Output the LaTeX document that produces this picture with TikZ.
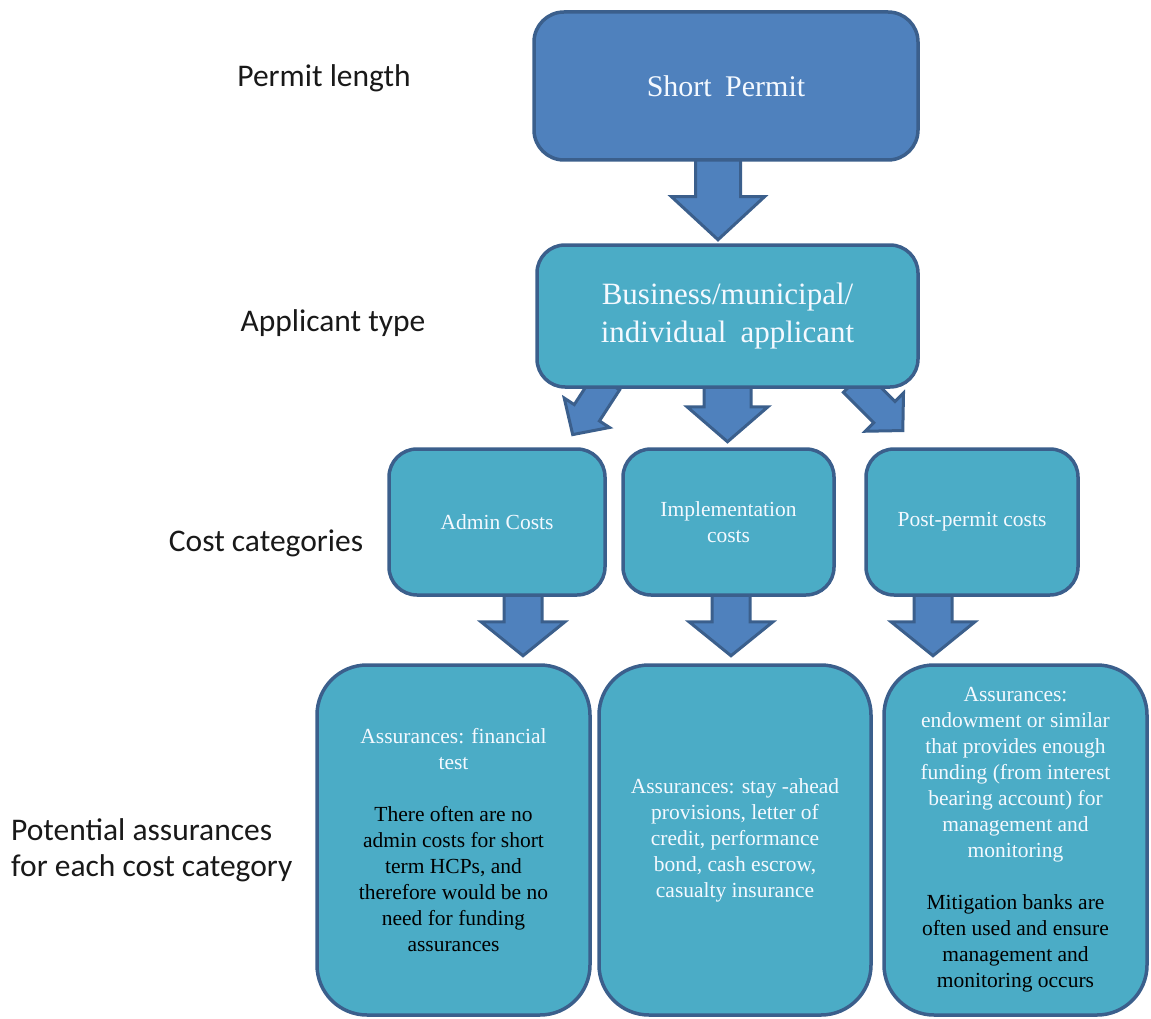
\documentclass[tikz,border=0pt]{standalone}
\usepackage{fontspec}
\setmainfont{Liberation Serif}
\newfontfamily\labfont{Carlito}
\usetikzlibrary{calc,backgrounds}
\definecolor{darkfill}{HTML}{4F81BD}
\definecolor{tealfill}{HTML}{4BACC6}
\definecolor{bordc}{HTML}{3B5F8C}
\definecolor{wtext}{HTML}{F4F9FF}
\tikzset{
  boxbase/.style={draw=bordc, line width=3.5pt, align=center, inner sep=0pt, text=wtext},
  topbox/.style={boxbase, fill=darkfill, rounded corners=30pt, font=\fontsize{30}{38}\selectfont},
  midbox/.style={boxbase, fill=tealfill, rounded corners=28pt, font=\fontsize{31}{38}\selectfont},
  costbox/.style={boxbase, fill=tealfill, rounded corners=28pt, font=\fontsize{21.5}{26}\selectfont},
  assbox/.style={boxbase, fill=tealfill, rounded corners=50pt, font=\fontsize{21.5}{26}\selectfont},
  lab/.style={font=\labfont\fontsize{31.5}{36}\selectfont, text=black!90, inner sep=0pt},
  arrst/.style={draw=bordc, fill=darkfill, line width=3pt, line join=miter}
}
\newcommand\blockarr[6]{%
  \begin{scope}[shift={#1}, rotate=#2]
    \draw[arrst] (-#3,0) -- (-#3,#5) -- (-#4,#5) -- (0,#5+#6) -- (#4,#5) -- (#3,#5) -- (#3,0) -- cycle;
  \end{scope}}
\begin{document}
\begin{tikzpicture}[x=1pt,y=-1pt]
\useasboundingbox (0,0) rectangle (1151,1019);
% boxes
\node[topbox, minimum width=384pt, minimum height=148pt] (sp) at (726,86) {Short\hspace{0.45em}Permit};
\node[midbox, minimum width=381pt, minimum height=142pt] (app) at (727.5,316) {Business/municipal/\\individual\hspace{0.45em}applicant};
\node[costbox, minimum width=216pt, minimum height=146pt] (adm) at (497,522) {Admin Costs};
\node[costbox, minimum width=211pt, minimum height=146pt] (imp) at (728.5,522) {Implementation\\costs};
\node[costbox, minimum width=212pt, minimum height=146pt] (post) at (972,522) {Post-permit costs};
\node[assbox, minimum width=273pt, minimum height=350pt] (a1) at (453.5,840) {Assurances: financial\\test\\[26pt]\color{black}There often are no\\\color{black}admin costs for short\\\color{black}term HCPs, and\\\color{black}therefore would be no\\\color{black}need for funding\\\color{black}assurances};
\node[assbox, minimum width=272pt, minimum height=350pt] (a2) at (735,840) {Assurances: stay -ahead\\provisions, letter of\\credit, performance\\bond, cash escrow,\\casualty insurance};
\node[assbox, minimum width=263pt, minimum height=350pt] (a3) at (1015.5,840) {Assurances:\\endowment or similar\\that provides enough\\funding (from interest\\bearing account) for\\management and\\monitoring\\[26pt]\color{black}Mitigation banks are\\\color{black}often used and ensure\\\color{black}management and\\\color{black}monitoring occurs};
% arrows behind boxes
\begin{scope}[on background layer]
\blockarr{($(sp.south)+(-8,-4)$)}{0}{22.5}{46.5}{39}{43}
\blockarr{($(app.south)+(0,-4)$)}{0}{23.5}{40.5}{22}{35}
\blockarr{($(app.south)+(-120.5,-7)$)}{-33}{15}{27}{37}{26}
\blockarr{($(app.south)+(126.5,-7)$)}{45}{15}{27}{43}{26}
\blockarr{($(adm.south)+(26,-4)$)}{0}{19}{42}{29}{34}
\blockarr{($(imp.south)+(2.5,-4)$)}{0}{19}{42}{29}{34}
\blockarr{($(post.south)+(-39,-4)$)}{0}{19}{42}{29}{34}
\end{scope}
% left labels
\node[lab] (l1) at (324,78) {Permit length};
\node[lab] (l2) at (333,323) {Applicant type};
\node[lab] (l3) at (266,543) {Cost categories};
\node[lab, anchor=west, align=left] (l4) at (11,850) {Potential assurances\\for each cost category};
\end{tikzpicture}
\end{document}
